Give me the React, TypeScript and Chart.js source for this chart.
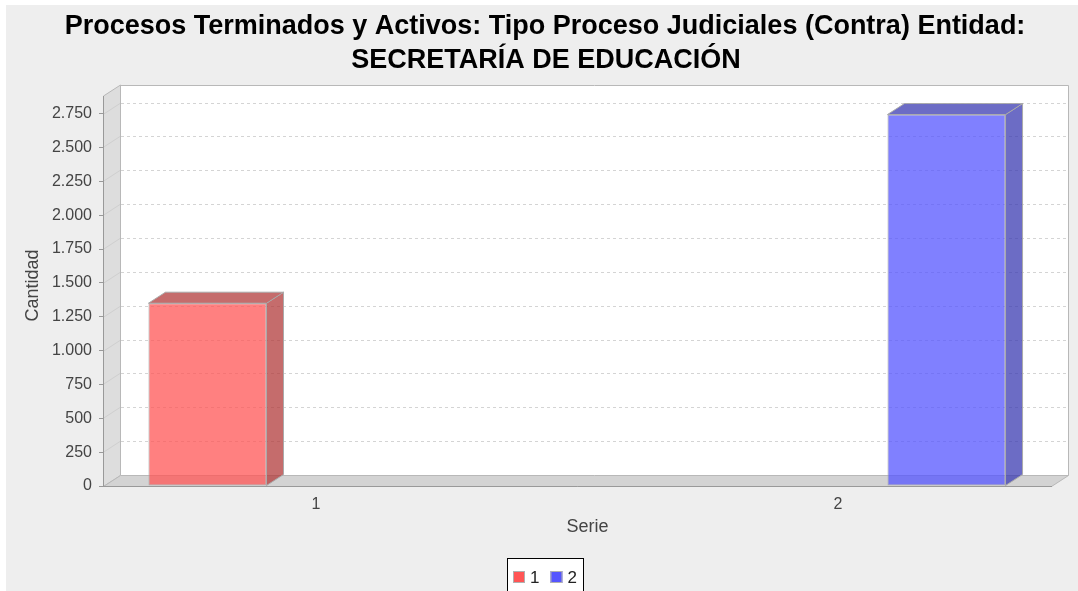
import React, { useEffect, useRef } from 'react';
import { Chart, registerables } from 'chart.js';

Chart.register(...registerables);

// ---- data ----
const titleLines = [
  'Procesos Terminados y Activos: Tipo Proceso Judiciales (Contra) Entidad:',
  'SECRETARÍA DE EDUCACIÓN',
];
const categories = ['1', '2'];
const seriesNames = ['1', '2'];
const serie1Values: (number | null)[] = [1350, null];
const serie2Values: (number | null)[] = [null, 2743];
const yTickValues = [0, 250, 500, 750, 1000, 1250, 1500, 1750, 2000, 2250, 2500, 2750];
const yAxisMax = 2880;
const xAxisTitle = 'Serie';
const yAxisTitle = 'Cantidad';

// ---- styles ----
const FONT = '"Liberation Sans", Arial, Helvetica, sans-serif';
const DX = 17;
const DY = 11;
const frontColors = ['rgba(255,85,85,0.75)', 'rgba(85,85,255,0.75)'];
const sideColors = ['rgba(178,59,59,0.75)', 'rgba(59,59,178,0.75)'];
const legendColors = ['#ff5555', '#5555ff'];
const outlineColor = '#aaaaaa';

function fmt(v: number): string {
  if (v >= 1000) {
    return Math.floor(v / 1000) + '.' + String(v % 1000).padStart(3, '0');
  }
  return String(v);
}

function poly(ctx: CanvasRenderingContext2D, pts: number[][], fill: string | null, stroke: string | null) {
  ctx.beginPath();
  ctx.moveTo(pts[0][0], pts[0][1]);
  for (let i = 1; i < pts.length; i++) ctx.lineTo(pts[i][0], pts[i][1]);
  ctx.closePath();
  if (fill) {
    ctx.fillStyle = fill;
    ctx.fill();
  }
  if (stroke) {
    ctx.strokeStyle = stroke;
    ctx.lineWidth = 1;
    ctx.stroke();
  }
}

const plugin3d = {
  id: 'jf3d',
  beforeDraw(chart: any) {
    const { ctx, chartArea: a } = chart;
    const ys = chart.scales.y;
    ctx.save();
    // background
    ctx.fillStyle = '#eeeeee';
    ctx.fillRect(0, 0, chart.width, chart.height);
    // back plane
    ctx.fillStyle = '#ffffff';
    ctx.fillRect(a.left + DX, a.top - DY, a.right - a.left, a.bottom - a.top);
    // wall
    const L = a.left + 0.5;
    const B = a.bottom + 0.5;
    poly(ctx, [[L, a.top], [L + DX, a.top - DY], [L + DX, B - DY], [L, B]], '#dddddd', '#b8b8b8');
    // floor
    poly(ctx, [[L, B], [L + DX, B - DY], [a.right + DX + 0.5, B - DY], [a.right + 0.5, B]], '#d3d3d3', '#b8b8b8');
    // gridlines on back plane and wall
    yTickValues.forEach((v) => {
      if (v === 0) return;
      const py = Math.round(ys.getPixelForValue(v)) + 0.5;
      ctx.strokeStyle = '#d4d4d4';
      ctx.lineWidth = 1;
      ctx.setLineDash([3, 3]);
      ctx.beginPath();
      ctx.moveTo(a.left + DX + 1, py - DY);
      ctx.lineTo(a.right + DX, py - DY);
      ctx.stroke();
      ctx.setLineDash([]);
      ctx.strokeStyle = '#cfcfcf';
      ctx.beginPath();
      ctx.moveTo(a.left, py);
      ctx.lineTo(a.left + DX, py - DY);
      ctx.stroke();
    });
    // back plane outline
    ctx.strokeStyle = '#b8b8b8';
    ctx.lineWidth = 1;
    ctx.beginPath();
    ctx.moveTo(L + DX, a.top - DY + 0.5);
    ctx.lineTo(a.right + DX + 0.5, a.top - DY + 0.5);
    ctx.lineTo(a.right + DX + 0.5, B - DY);
    ctx.stroke();
    ctx.restore();
  },
  afterDatasetsDraw(chart: any) {
    const { ctx } = chart;
    ctx.save();
    chart.data.datasets.forEach((ds: any, i: number) => {
      const meta = chart.getDatasetMeta(i);
      meta.data.forEach((el: any) => {
        const { x, y, base, width } = el.getProps(['x', 'y', 'base', 'width'], true);
        const l = x - width / 2;
        const r = x + width / 2;
        poly(ctx, [[r, y], [r + DX, y - DY], [r + DX, base - DY], [r, base]], sideColors[i], outlineColor);
        poly(ctx, [[l, y], [l + DX, y - DY], [r + DX, y - DY], [r, y]], sideColors[i], outlineColor);
      });
    });
    ctx.restore();
  },
  afterDraw(chart: any) {
    const { ctx, chartArea: a } = chart;
    ctx.save();
    // title
    ctx.fillStyle = '#000000';
    ctx.font = 'bold 27px ' + FONT;
    ctx.textAlign = 'center';
    ctx.textBaseline = 'alphabetic';
    ctx.fillText(titleLines[0], 539, 29);
    ctx.fillText(titleLines[1], 540, 63);

    // axis titles
    ctx.fillStyle = '#444444';
    ctx.font = '18px ' + FONT;
    ctx.textAlign = 'center';
    ctx.textBaseline = 'middle';
    ctx.fillText(xAxisTitle, (a.left + a.right + DX) / 2 + 2, a.bottom + 41);
    ctx.save();
    ctx.translate(27, (a.top - DY + a.bottom) / 2);
    ctx.rotate(-Math.PI / 2);
    ctx.fillText(yAxisTitle, 0, 0);
    ctx.restore();

    // legend
    ctx.font = '17px ' + FONT;
    const sq = 12;
    const padL = 6;
    const gapSqText = 5;
    const gapItems = 11;
    const padR = 6;
    const widths = seriesNames.map((n) => ctx.measureText(n).width);
    let total = padL + padR;
    widths.forEach((w, i) => {
      total += sq + gapSqText + w + (i < widths.length - 1 ? gapItems : 0);
    });
    const boxLeft = Math.round(chart.width / 2 - total / 2) + 3;
    const boxTop = 553;
    ctx.strokeStyle = '#000000';
    ctx.lineWidth = 1;
    ctx.strokeRect(boxLeft + 0.5, boxTop + 0.5, Math.round(total), 40);
    ctx.fillStyle = '#ffffff';
    ctx.fillRect(boxLeft + 1, boxTop + 1, Math.round(total) - 1, 39);
    let cx = boxLeft + padL;
    seriesNames.forEach((n, i) => {
      ctx.fillStyle = legendColors[i];
      ctx.fillRect(cx, boxTop + 13, sq, sq);
      ctx.strokeStyle = '#b0b0b0';
      ctx.strokeRect(cx + 0.5, boxTop + 13.5, sq - 1, sq - 1);
      cx += sq + gapSqText;
      ctx.fillStyle = '#222222';
      ctx.textAlign = 'left';
      ctx.textBaseline = 'middle';
      ctx.fillText(n, cx, boxTop + 20);
      cx += widths[i] + gapItems;
    });
    ctx.restore();
  },
};

function buildPoints(values: (number | null)[]) {
  return values
    .map((v, i) => ({ x: i + 1, y: v }))
    .filter((p) => p.y !== null) as { x: number; y: number }[];
}

export default function App() {
  const ref = useRef<HTMLCanvasElement>(null);
  useEffect(() => {
    if (!ref.current) return;
    const seriesData = [serie1Values, serie2Values];
    const chart = new Chart(ref.current, {
      type: 'bar',
      data: {
        datasets: seriesNames.map((name, i) => ({
          label: name,
          data: buildPoints(seriesData[i]),
          backgroundColor: frontColors[i],
          borderColor: outlineColor,
          borderWidth: 1,
          borderSkipped: false,
          categoryPercentage: 0.8314,
          barPercentage: 0.544,
        })),
      },
      options: {
        responsive: false,
        animation: false,
        layout: { padding: { top: 91, left: 0, right: 27, bottom: 75 } },
        plugins: {
          legend: { display: false },
          tooltip: { enabled: false },
          title: { display: false },
        },
        scales: {
          x: {
            type: 'linear',
            min: 0.592,
            max: 2.408,
            offset: false,
            afterBuildTicks: (scale: any) => {
              scale.ticks = categories.map((_, i) => ({ value: i + 1 }));
            },
            afterFit: (scale: any) => {
              scale.height = 30;
            },
            grid: { display: false, drawTicks: false, tickLength: 0, offset: false },
            border: { display: true, color: '#999999', width: 1 },
            ticks: {
              padding: 9,
              color: '#444444',
              font: { family: FONT, size: 16 },
              maxRotation: 0,
              autoSkip: false,
              callback: (v: any) => categories[Math.round(Number(v)) - 1] ?? '',
            },
          },
          y: {
            min: 0,
            max: yAxisMax,
            afterBuildTicks: (scale: any) => {
              scale.ticks = yTickValues.map((v) => ({ value: v }));
            },
            afterFit: (scale: any) => {
              scale.width = 97;
            },
            grid: { display: true, drawOnChartArea: false, drawTicks: true, tickLength: 4, color: '#999999' },
            border: { display: true, color: '#999999', width: 1 },
            ticks: {
              padding: 7,
              color: '#444444',
              font: { family: FONT, size: 16 },
              autoSkip: false,
              callback: (v: any) => fmt(Number(v)),
            },
          },
        },
      },
      plugins: [plugin3d],
    } as any);
    return () => chart.destroy();
  }, []);
  return (
    <div style={{ position: 'absolute', left: 6, top: 5, width: 1072, height: 586, overflow: 'hidden' }}>
      <canvas ref={ref} width={1072} height={586} style={{ display: 'block' }} />
    </div>
  );
}
